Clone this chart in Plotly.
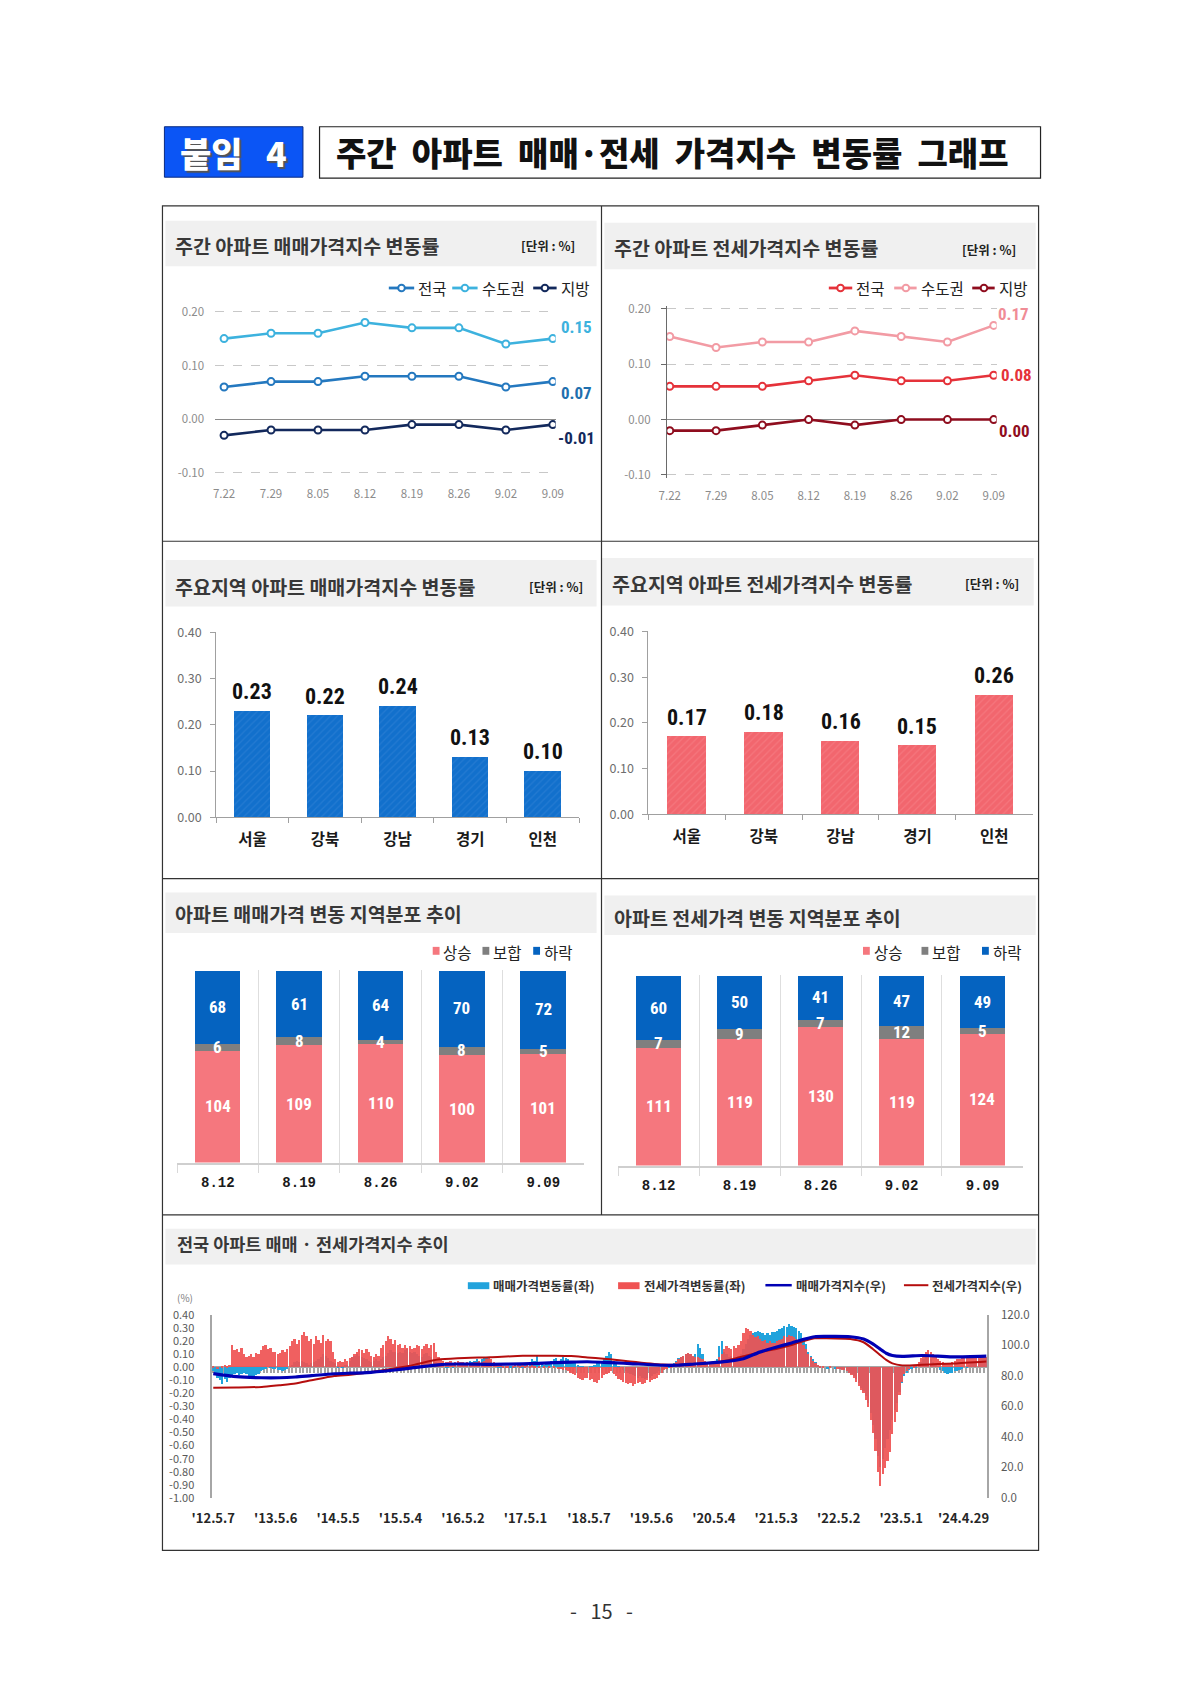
import pandas as pd
import plotly.graph_objects as go

W, H = 1190, 1682


def fx(p):
    return p / W


def fy(p):
    return 1 - p / H


KR = "Noto Sans CJK KR, Noto Sans, sans-serif"
NARROW = "Liberation Sans Narrow, Roboto Condensed, Roboto, Noto Sans CJK KR, sans-serif"
MONO = "Liberation Mono, DejaVu Sans Mono, monospace"
NB = "\u00a0"

# ---------------- data ----------------
weeks = ["7.22", "7.29", "8.05", "8.12", "8.19", "8.26", "9.02", "9.09"]
sale_nation = [0.06, 0.07, 0.07, 0.08, 0.08, 0.08, 0.06, 0.07]
sale_capital = [0.15, 0.16, 0.16, 0.18, 0.17, 0.17, 0.14, 0.15]
sale_local = [-0.03, -0.02, -0.02, -0.02, -0.01, -0.01, -0.02, -0.01]
jeonse_nation = [0.06, 0.06, 0.06, 0.07, 0.08, 0.07, 0.07, 0.08]
jeonse_capital = [0.15, 0.13, 0.14, 0.14, 0.16, 0.15, 0.14, 0.17]
jeonse_local = [-0.02, -0.02, -0.01, 0.00, -0.01, 0.00, 0.00, 0.00]
line_ticks = [-0.10, 0.00, 0.10, 0.20]

regions = ["서울", "강북", "강남", "경기", "인천"]
sale_region = [0.23, 0.22, 0.24, 0.13, 0.10]
jeonse_region = [0.17, 0.18, 0.16, 0.15, 0.26]
bar_ticks = [0.00, 0.10, 0.20, 0.30, 0.40]

dist_weeks = ["8.12", "8.19", "8.26", "9.02", "9.09"]
sale_up = [104, 109, 110, 100, 101]
sale_flat = [6, 8, 4, 8, 5]
sale_down = [68, 61, 64, 70, 72]
jeonse_up = [111, 119, 130, 119, 124]
jeonse_flat = [7, 9, 7, 12, 5]
jeonse_down = [60, 50, 41, 47, 49]

# bi-weekly change rates (%), from 2012-05-07 to 2024-09-09
sale_chg = [
    # 2012.05 - 2013.04
    -0.03, -0.05, -0.08, -0.10, -0.13, -0.09, -0.11, -0.08, -0.06, -0.05, -0.04, -0.06, -0.05,
    -0.04, -0.05, -0.07, -0.09, -0.08, -0.06, -0.05, -0.03, -0.02, -0.01, 0.00, 0.01, -0.01,
    # 2013.05 - 2014.04
    -0.01, -0.02, -0.02, -0.03, -0.02, -0.01, 0.00, 0.02, 0.04, 0.05, 0.04, 0.05, 0.04,
    0.03, 0.02, 0.03, 0.04, 0.05, 0.06, 0.08, 0.10, 0.09, 0.07, 0.05, 0.04, 0.03,
    # 2014.05 - 2015.04
    0.01, 0.00, 0.01, 0.02, 0.02, 0.05, 0.08, 0.09, 0.10, 0.09, 0.08, 0.07, 0.06,
    0.05, 0.04, 0.05, 0.06, 0.05, 0.06, 0.08, 0.09, 0.11, 0.13, 0.12, 0.12, 0.11,
    # 2015.05 - 2016.04
    0.12, 0.11, 0.13, 0.14, 0.12, 0.11, 0.12, 0.10, 0.09, 0.08, 0.10, 0.11, 0.09,
    0.08, 0.06, 0.04, 0.03, 0.02, 0.02, 0.01, 0.01, 0.00, 0.01, 0.02, 0.02, 0.03,
    # 2016.05 - 2017.04
    0.03, 0.03, 0.04, 0.05, 0.04, 0.05, 0.06, 0.05, 0.06, 0.07, 0.08, 0.06, 0.04,
    0.03, 0.02, 0.01, 0.01, 0.01, 0.01, 0.00, 0.01, 0.01, 0.01, 0.02, 0.02, 0.01,
    # 2017.05 - 2018.04
    0.02, 0.03, 0.04, 0.06, 0.05, 0.09, 0.04, 0.03, 0.02, 0.03, 0.04, 0.05, 0.06,
    0.07, 0.05, 0.06, 0.08, 0.07, 0.06, 0.05, 0.04, 0.03, 0.02, 0.01, 0.01, 0.00,
    # 2018.05 - 2019.04
    0.00, 0.01, 0.01, 0.02, 0.03, 0.04, 0.05, 0.07, 0.09, 0.12, 0.10, 0.05, 0.03,
    0.01, 0.00, -0.02, -0.03, -0.04, -0.05, -0.06, -0.07, -0.08, -0.07, -0.08, -0.09, -0.08,
    # 2019.05 - 2020.04
    -0.08, -0.07, -0.05, -0.04, -0.03, -0.02, -0.01, 0.00, 0.01, 0.02, 0.03, 0.05, 0.07,
    0.08, 0.09, 0.10, 0.11, 0.10, 0.08, 0.10, 0.18, 0.15, 0.10, 0.05, 0.03, 0.02,
    # 2020.05 - 2021.04
    0.02, 0.03, 0.06, 0.16, 0.20, 0.12, 0.10, 0.08, 0.09, 0.08, 0.07, 0.09, 0.10,
    0.14, 0.18, 0.22, 0.25, 0.26, 0.27, 0.28, 0.27, 0.26, 0.25, 0.26, 0.25, 0.27,
    # 2021.05 - 2022.04
    0.27, 0.28, 0.29, 0.30, 0.32, 0.31, 0.33, 0.32, 0.31, 0.30, 0.28, 0.26, 0.22,
    0.18, 0.12, 0.09, 0.06, 0.04, 0.02, 0.01, 0.00, 0.00, -0.01, 0.00, 0.00, -0.01,
    # 2022.05 - 2023.04
    0.00, -0.01, -0.01, -0.02, -0.03, -0.04, -0.05, -0.07, -0.09, -0.12, -0.16, -0.18, -0.22,
    -0.27, -0.35, -0.44, -0.55, -0.68, -0.76, -0.70, -0.62, -0.55, -0.48, -0.40, -0.33, -0.27,
    # 2023.05 - 2024.04
    -0.19, -0.12, -0.07, -0.04, -0.02, -0.01, 0.00, 0.01, 0.02, 0.04, 0.06, 0.08, 0.07,
    0.06, 0.04, 0.02, 0.00, -0.02, -0.03, -0.04, -0.05, -0.04, -0.04, -0.03, -0.03, -0.02,
    # 2024.05 - 2024.09
    -0.01, 0.00, 0.01, 0.02, 0.03, 0.04, 0.05, 0.06, 0.07, 0.08, 0.07,
]
jeonse_chg = [
    # 2012.05 - 2013.04
    0.01, 0.00, -0.01, 0.00, 0.01, 0.02, 0.01, 0.02, 0.17, 0.13, 0.14, 0.12, 0.15,
    0.10, 0.08, 0.09, 0.10, 0.08, 0.11, 0.10, 0.13, 0.16, 0.17, 0.14, 0.15, 0.12,
    # 2013.05 - 2014.04
    0.12, 0.10, 0.11, 0.13, 0.12, 0.14, 0.16, 0.20, 0.22, 0.18, 0.21, 0.25, 0.27,
    0.24, 0.20, 0.22, 0.18, 0.24, 0.21, 0.19, 0.25, 0.20, 0.22, 0.20, 0.12, 0.06,
    # 2014.05 - 2015.04
    0.04, 0.05, 0.04, 0.06, 0.05, 0.07, 0.08, 0.10, 0.12, 0.14, 0.13, 0.11, 0.14,
    0.12, 0.09, 0.08, 0.10, 0.09, 0.15, 0.17, 0.20, 0.24, 0.22, 0.18, 0.21, 0.17,
    # 2015.05 - 2016.04
    0.18, 0.15, 0.17, 0.15, 0.16, 0.14, 0.15, 0.17, 0.16, 0.14, 0.16, 0.18, 0.15,
    0.17, 0.19, 0.12, 0.08, 0.06, 0.05, 0.04, 0.04, 0.05, 0.03, 0.04, 0.05, 0.04,
    # 2016.05 - 2017.04
    0.04, 0.03, 0.04, 0.03, 0.03, 0.04, 0.04, 0.05, 0.04, 0.05, 0.06, 0.07, 0.06,
    0.04, 0.03, 0.02, 0.02, 0.01, 0.01, 0.01, 0.00, 0.01, 0.02, 0.02, 0.01, 0.02,
    # 2017.05 - 2018.04
    0.01, 0.02, 0.01, 0.02, 0.01, 0.00, 0.01, 0.00, 0.01, 0.00, 0.01, 0.00, 0.01,
    0.00, -0.01, -0.01, -0.02, -0.02, -0.03, -0.04, -0.05, -0.06, -0.08, -0.09, -0.10, -0.08,
    # 2018.05 - 2019.04
    -0.08, -0.10, -0.09, -0.11, -0.12, -0.10, -0.08, -0.06, -0.05, -0.04, -0.03, -0.05, -0.07,
    -0.09, -0.10, -0.11, -0.12, -0.13, -0.12, -0.14, -0.13, -0.12, -0.11, -0.13, -0.12, -0.10,
    # 2019.05 - 2020.04
    -0.11, -0.10, -0.09, -0.08, -0.06, -0.04, -0.02, -0.01, 0.00, 0.01, 0.02, 0.04, 0.06,
    0.08, 0.09, 0.10, 0.11, 0.10, 0.09, 0.08, 0.08, 0.07, 0.06, 0.05, 0.04, 0.03,
    # 2020.05 - 2021.04
    0.03, 0.04, 0.05, 0.08, 0.10, 0.14, 0.16, 0.15, 0.14, 0.16, 0.15, 0.17, 0.20,
    0.26, 0.30, 0.29, 0.28, 0.25, 0.23, 0.24, 0.22, 0.20, 0.21, 0.19, 0.20, 0.19,
    # 2021.05 - 2022.04
    0.19, 0.20, 0.21, 0.22, 0.24, 0.23, 0.25, 0.24, 0.23, 0.22, 0.20, 0.19, 0.17,
    0.14, 0.10, 0.08, 0.05, 0.03, 0.02, 0.01, 0.01, 0.00, 0.00, 0.01, 0.00, 0.00,
    # 2022.05 - 2023.04
    -0.01, -0.01, -0.02, -0.02, -0.03, -0.04, -0.06, -0.08, -0.11, -0.14, -0.17, -0.20, -0.25,
    -0.30, -0.40, -0.50, -0.64, -0.80, -0.91, -0.82, -0.77, -0.72, -0.65, -0.51, -0.42, -0.34,
    # 2023.05 - 2024.04
    -0.21, -0.11, -0.05, -0.03, -0.01, 0.00, 0.01, 0.02, 0.04, 0.07, 0.10, 0.12, 0.13,
    0.12, 0.10, 0.08, 0.06, 0.05, 0.04, 0.03, 0.03, 0.03, 0.04, 0.05, 0.06, 0.06,
    # 2024.05 - 2024.09
    0.07, 0.07, 0.08, 0.08, 0.09, 0.08, 0.09, 0.08, 0.08, 0.08, 0.08,
]
chg_dates = pd.date_range("2012-05-07", periods=len(sale_chg), freq="14D")

idx_dates = ["2012-05-07", "2012-09-20", "2013-02-14", "2013-05-27", "2013-08-29", "2013-12-01",
             "2014-04-12", "2014-07-16", "2014-10-19", "2015-03-17", "2015-06-20", "2015-08-18",
             "2015-12-09", "2016-04-01", "2016-10-08", "2017-04-16", "2017-10-19", "2018-01-23",
             "2018-04-28", "2018-07-31", "2018-10-16", "2019-01-01", "2019-07-09", "2019-10-08",
             "2020-01-12", "2020-04-16", "2020-07-19", "2020-10-23", "2021-01-26", "2021-05-01",
             "2021-07-31", "2021-10-16", "2021-12-13", "2022-02-06", "2022-07-09", "2022-09-24",
             "2022-11-17", "2022-12-28", "2023-02-03", "2023-03-11", "2023-05-08", "2023-08-29",
             "2023-12-01", "2024-03-07", "2024-09-09"]
sale_idx = [81.5, 79.5, 78.8, 78.8, 79.3, 80.2, 81.4, 81.8, 82.1, 83.7, 85.0, 85.8, 87.3, 87.8,
            87.6, 87.9, 88.7, 89.1, 89.3, 88.9, 88.5, 88.1, 87.0, 87.0, 87.8, 88.5, 89.5, 91.3,
            95.6, 98.8, 101.6, 104.2, 105.7, 105.9, 105.7, 104.2, 101.0, 97.7, 94.9, 93.4, 92.8,
            93.4, 93.0, 92.5, 93.0]
jeonse_idx = [72.2, 72.4, 72.8, 73.9, 75.0, 77.1, 79.9, 80.8, 82.1, 84.7, 86.5, 88.0, 90.7, 91.6,
              92.3, 93.2, 93.2, 93.0, 92.1, 91.3, 90.5, 89.5, 87.5, 87.3, 87.8, 88.6, 90.1, 92.9,
              95.6, 97.7, 100.3, 103.1, 104.7, 104.7, 104.2, 102.1, 97.7, 93.8, 90.5, 88.2, 86.9,
              87.3, 87.8, 88.2, 89.5]

trend_tickvals = ["2012-05-07", "2013-05-06", "2014-05-05", "2015-05-04", "2016-05-02", "2017-05-01",
                  "2018-05-07", "2019-05-06", "2020-05-04", "2021-05-03", "2022-05-02", "2023-05-01",
                  "2024-04-29"]
trend_ticktext = ["'12.5.7", "'13.5.6", "'14.5.5", "'15.5.4", "'16.5.2", "'17.5.1", "'18.5.7",
                  "'19.5.6", "'20.5.4", "'21.5.3", "'22.5.2", "'23.5.1", "'24.4.29"]
left_ticks = [-1.0, -0.9, -0.8, -0.7, -0.6, -0.5, -0.4, -0.3, -0.2, -0.1, 0.0, 0.1, 0.2, 0.3, 0.4]
right_ticks = [0, 20, 40, 60, 80, 100, 120]

# ---------------- colours ----------------
S_NAT, S_CAP, S_LOC = "#2478bf", "#3db2de", "#13295c"
J_NAT, J_CAP, J_LOC = "#e5323a", "#f29ba4", "#8f0d1e"
BAR_BLUE, BAR_RED = "#1270cc", "#f2666e"
UP, FLAT, DOWN = "#f5777e", "#7f7f7f", "#0563c0"
CYAN, RED, IDX_BLUE, IDX_RED = "#22a3dc", "#ef5353", "#0000b4", "#b50d0d"

fig = go.Figure()


def line_trace(x, y, color, xa, ya):
    return go.Scatter(x=x, y=y, mode="lines+markers", xaxis=xa, yaxis=ya,
                      line=dict(color=color, width=2.6),
                      marker=dict(symbol="circle", size=7, color="white",
                                  line=dict(color=color, width=2)),
                      showlegend=False, hoverinfo="skip")


for vals, col in [(sale_capital, S_CAP), (sale_nation, S_NAT), (sale_local, S_LOC)]:
    fig.add_trace(line_trace(weeks, vals, col, "x", "y"))
for vals, col in [(jeonse_capital, J_CAP), (jeonse_nation, J_NAT), (jeonse_local, J_LOC)]:
    fig.add_trace(line_trace(weeks, vals, col, "x2", "y2"))

fig.add_trace(go.Bar(x=regions, y=sale_region, width=0.5, xaxis="x3", yaxis="y3",
                     marker=dict(color=BAR_BLUE, line=dict(width=0),
                                 pattern=dict(shape="/", bgcolor=BAR_BLUE, fgcolor="#3d8ad8",
                                              fgopacity=0.4, size=5, solidity=0.25)),
                     showlegend=False, hoverinfo="skip"))
fig.add_trace(go.Bar(x=regions, y=jeonse_region, width=0.5, xaxis="x4", yaxis="y4",
                     marker=dict(color=BAR_RED, line=dict(width=0),
                                 pattern=dict(shape="/", bgcolor=BAR_RED, fgcolor="#f88a90",
                                              fgopacity=0.45, size=5, solidity=0.25)),
                     showlegend=False, hoverinfo="skip"))


def stack(xa, ya, up, flat, down, width):
    base2 = up
    base3 = [u + f for u, f in zip(up, flat)]
    for vals, base, col in [(up, None, UP), (flat, base2, FLAT), (down, base3, DOWN)]:
        fig.add_trace(go.Bar(x=dist_weeks, y=vals, base=base, width=width, xaxis=xa, yaxis=ya,
                             marker=dict(color=col, line=dict(width=0)),
                             showlegend=False, hoverinfo="skip"))


stack("x5", "y5", sale_up, sale_flat, sale_down, 0.56)
stack("x6", "y6", jeonse_up, jeonse_flat, jeonse_down, 0.55)

BARW = 10 * 86400000
fig.add_trace(go.Bar(x=chg_dates, y=sale_chg, width=BARW, xaxis="x7", yaxis="y7",
                     marker=dict(color=CYAN, line=dict(width=0)), showlegend=False,
                     hoverinfo="skip"))
fig.add_trace(go.Bar(x=chg_dates, y=jeonse_chg, width=BARW, xaxis="x7", yaxis="y7",
                     marker=dict(color=RED, line=dict(width=0)), opacity=0.92,
                     showlegend=False, hoverinfo="skip"))
fig.add_trace(go.Scatter(x=[chg_dates[0]], y=[None], xaxis="x8", yaxis="y7", mode="markers",
                         showlegend=False, hoverinfo="skip"))
fig.add_trace(go.Scatter(x=idx_dates, y=jeonse_idx, xaxis="x7", yaxis="y8", mode="lines",
                         line=dict(color=IDX_RED, width=2, shape="spline", smoothing=0.6),
                         showlegend=False, hoverinfo="skip"))
fig.add_trace(go.Scatter(x=idx_dates, y=sale_idx, xaxis="x7", yaxis="y8", mode="lines",
                         line=dict(color=IDX_BLUE, width=3.2, shape="spline", smoothing=0.6),
                         showlegend=False, hoverinfo="skip"))

# ---------------- axes ----------------
gray_font = dict(family=KR, size=11.5, color="#8c8c8c")


def fmt(vals, d):
    return [f"{v:.{d}f}" for v in vals]


LR = [-0.105, 0.205]
layout_axes = dict(
    xaxis=dict(domain=[fx(199), fx(548)], anchor="y", type="category", range=[-0.19, 7.06],
               showgrid=False, zeroline=False, showline=False, ticks="", tickfont=gray_font,
               ticklabelstandoff=10),
    yaxis=dict(domain=[fy(470.7), fy(302.3)], anchor="x", range=LR,
               tickvals=line_ticks, ticktext=fmt(line_ticks, 2), showgrid=True,
               gridcolor="#c8c8c8", griddash="dash", gridwidth=1, zeroline=True,
               zerolinecolor="#8a8a8a", zerolinewidth=1, showline=False, ticks="",
               tickfont=gray_font, ticklabelstandoff=10),
    xaxis2=dict(domain=[fx(662), fx(1000)], anchor="y2", type="category", range=[-0.063, 7.063],
                showgrid=False, zeroline=False, showline=False, ticks="", tickfont=gray_font,
                ticklabelstandoff=10),
    yaxis2=dict(domain=[fy(472.8), fy(299.2)], anchor="x2", range=LR,
                tickvals=line_ticks, ticktext=fmt(line_ticks, 2), showgrid=True,
                gridcolor="#c8c8c8", griddash="dash", gridwidth=1, zeroline=True,
                zerolinecolor="#8a8a8a", zerolinewidth=1, showline=True, linecolor="#6a6a6a",
                ticks="outside", ticklen=5, tickcolor="#6a6a6a", tickfont=gray_font,
                ticklabelstandoff=8),
)

for i, (dx, dy) in enumerate([((200, 572), (816, 629)), ((643, 1037), (813, 628))], start=3):
    layout_axes[f"xaxis{i}"] = dict(domain=[fx(dx[0]), fx(dx[1])], anchor=f"y{i}", type="category",
                                    range=[-0.5, 4.5], showgrid=False, zeroline=False,
                                    showline=True, linecolor="#a0a0a0", ticks="outside",
                                    tickson="boundaries", ticklen=5, tickcolor="#a0a0a0",
                                    tickfont=dict(family=KR, size=15.5, color="#1a1a1a",
                                                  weight="bold"),
                                    ticklabelstandoff=8)
    layout_axes[f"yaxis{i}"] = dict(domain=[fy(dy[0]), fy(dy[1])], anchor=f"x{i}",
                                    range=[0, 0.4005], tickvals=bar_ticks,
                                    ticktext=fmt(bar_ticks, 2), showgrid=False, zeroline=False,
                                    showline=True, linecolor="#a0a0a0", ticks="outside",
                                    ticklen=5, tickcolor="#a0a0a0",
                                    tickfont=dict(family=KR, size=12.5, color="#6e6e6e"),
                                    ticklabelstandoff=6)

for i, (dx, dy) in enumerate([((160, 577), (1165, 970)), ((612, 1027), (1168, 975))], start=5):
    layout_axes[f"xaxis{i}"] = dict(domain=[fx(dx[0]), fx(dx[1])], anchor=f"y{i}", type="category",
                                    range=[-0.5, 4.5], showgrid=True, gridcolor="#dedede",
                                    zeroline=False, showline=True, linecolor="#cfcfcf",
                                    linewidth=2, ticks="outside", tickson="boundaries",
                                    ticklen=8, tickcolor="#d9d9d9",
                                    tickfont=dict(family=MONO, size=14, color="#1a1a1a",
                                                  weight="bold"),
                                    ticklabelstandoff=6)
    layout_axes[f"yaxis{i}"] = dict(domain=[fy(dy[0]), fy(dy[1])], anchor=f"x{i}",
                                    range=[0, 179], showgrid=False, zeroline=False,
                                    showline=False, ticks="", showticklabels=False)

Y7_RANGE = [-1.0005, 0.4005]
Y8_RANGE = [-0.043, 120.043]
X7_RANGE = ["2012-05-01", "2024-09-12"]
d7 = [fy(1504), fy(1319)]
zero_pos = d7[0] + (0 - Y7_RANGE[0]) / (Y7_RANGE[1] - Y7_RANGE[0]) * (d7[1] - d7[0])
layout_axes.update(
    xaxis7=dict(domain=[fx(196), fx(990)], anchor="y7", type="date", range=X7_RANGE,
                tickvals=trend_tickvals, ticktext=trend_ticktext, ticks="", showgrid=False,
                showline=False, zeroline=False,
                tickfont=dict(family=KR, size=13, color="#262626", weight="bold"),
                ticklabelstandoff=11),
    xaxis8=dict(overlaying="x7", anchor="free", position=zero_pos, type="date", range=X7_RANGE,
                ticks="outside", ticklen=5, tickwidth=1.5, tickcolor="#a3a3a3",
                dtick=21 * 86400000, tick0="2012-05-07", showticklabels=False, showgrid=False,
                showline=False, zeroline=False, layer="below traces"),
    yaxis7=dict(domain=d7, anchor="x7", range=Y7_RANGE, tickvals=left_ticks,
                ticktext=fmt(left_ticks, 2), showgrid=False, zeroline=True,
                zerolinecolor="#a6a6a6", zerolinewidth=1.5, showline=True, linecolor="#a6a6a6",
                linewidth=1.5, ticks="", tickfont=dict(family=KR, size=11, color="#595959"),
                ticklabelstandoff=14),
    yaxis8=dict(overlaying="y7", side="right", anchor="x7", range=Y8_RANGE, tickvals=right_ticks,
                ticktext=fmt(right_ticks, 1), showgrid=False, zeroline=False, showline=True,
                linecolor="#a6a6a6", linewidth=1.5, ticks="",
                tickfont=dict(family=KR, size=11.5, color="#595959"), ticklabelstandoff=10),
)

# ---------------- annotations & shapes ----------------
ann, shp = [], []


def text(x, y, s, size, color="#222", weight="normal", family=KR, xanchor="left",
         yanchor="middle", shadow=None):
    f = dict(family=family, size=size, color=color, weight=weight)
    if shadow:
        f["shadow"] = shadow
    ann.append(dict(x=fx(x), y=fy(y), xref="paper", yref="paper", text=s, showarrow=False,
                    xanchor=xanchor, yanchor=yanchor, font=f))


def rect(x0, y0, x1, y1, fill, line_color=None, lw=0, layer="below"):
    shp.append(dict(type="rect", xref="paper", yref="paper", x0=fx(x0), x1=fx(x1), y0=fy(y1),
                    y1=fy(y0), fillcolor=fill, line=dict(color=line_color or fill, width=lw),
                    layer=layer))


def seg(x0, y0, x1, y1, color, width):
    shp.append(dict(type="line", xref="paper", yref="paper", x0=fx(x0), x1=fx(x1), y0=fy(y0),
                    y1=fy(y1), line=dict(color=color, width=width), layer="above"))


def circ(cx, cy, color, r=3.4):
    shp.append(dict(type="circle", xref="paper", yref="paper", x0=fx(cx - r), x1=fx(cx + r),
                    y0=fy(cy + r), y1=fy(cy - r), fillcolor="white",
                    line=dict(color=color, width=2), layer="above"))


# header
rect(147, 118, 289, 169, "#0b55f5", "#0a2a80", 1)
text(218, 144, "붙임" + NB + NB + " 4", 34, "white", 900, xanchor="center",
     shadow="2px 2px 1px #555555")
rect(306, 118, 1045, 170, "white", "#222222", 1.2)
gap = NB + " "
text(668, 144, gap.join(["주간", "아파트", "매매·전세", "가격지수", "변동률", "그래프"]), 33,
     "#111111", 900, xanchor="center")

# frame
rect(145, 198, 1043, 1557, "rgba(0,0,0,0)", "#333333", 1.2, layer="above")
seg(595, 198, 595, 1218, "#333333", 1.2)
for yy in (537, 878, 1218):
    seg(145, yy, 1043, yy, "#333333", 1.2)

# title bands
BAND = "#f0f0f0"
TCOL = "#383838"
TS = 19.5
rect(148, 213, 590, 259, BAND)
text(156, 238, "주간 아파트 매매가격지수 변동률", TS, TCOL, "bold")
text(570, 238, "[단위 : %]", 12.5, "#222", "bold", xanchor="right")
rect(598, 215, 1040, 262, BAND)
text(606, 240, "주간 아파트 전세가격지수 변동률", TS, TCOL, "bold")
text(1022, 242, "[단위 : %]", 12.5, "#222", "bold", xanchor="right")
rect(148, 556, 590, 603, BAND)
text(156, 583, "주요지역 아파트 매매가격지수 변동률", TS, TCOL, "bold")
text(578, 583, "[단위 : %]", 12.5, "#222", "bold", xanchor="right")
rect(595, 554, 1038, 602, BAND)
text(604, 580, "주요지역 아파트 전세가격지수 변동률", TS, TCOL, "bold")
text(1025, 580, "[단위 : %]", 12.5, "#222", "bold", xanchor="right")
rect(148, 892, 590, 933, BAND)
text(156, 913, "아파트 매매가격 변동 지역분포 추이", TS, TCOL, "bold")
rect(598, 895, 1040, 935, BAND)
text(606, 917, "아파트 전세가격 변동 지역분포 추이", TS, TCOL, "bold")
rect(148, 1232, 1040, 1268, BAND)
text(158, 1247, "전국 아파트 매매 · 전세가격지수 추이", 17.5, TCOL, "bold")

# legends: weekly line panels
for (l0, l1, cx, tx, label, col) in [(377, 403, 390, 405, "전국", S_NAT),
                                     (442, 468, 455, 470, "수도권", S_CAP),
                                     (525, 549, 537, 551, "지방", S_LOC)]:
    seg(l0, 281, l1, 281, col, 2.8)
    circ(cx, 281, col)
    text(tx, 281, label, 15.5, "#222")
for (l0, l1, cx, tx, label, col) in [(828, 852, 840, 854, "전국", J_NAT),
                                     (895, 918, 907, 920, "수도권", J_CAP),
                                     (975, 998, 987, 1000, "지방", J_LOC)]:
    seg(l0, 281, l1, 281, col, 2.8)
    circ(cx, 281, col)
    text(tx, 281, label, 15.5, "#222")

# legends: distribution panels
for (sx, label, col) in [(422, "상승", UP), (473, "보합", FLAT), (525, "하락", DOWN)]:
    rect(sx, 947, sx + 7, 955, col, layer="above")
    text(sx + 9, 952, label, 15.5, "#222")
for (sx, label, col) in [(863, "상승", UP), (923, "보합", FLAT), (985, "하락", DOWN)]:
    rect(sx, 947, sx + 7, 955, col, layer="above")
    text(sx + 9, 952, label, 15.5, "#222")

# legend: trend panel
rect(458, 1286, 480, 1293, CYAN, layer="above")
text(482, 1289, "매매가격변동률(좌)", 12.5, "#333", "bold")
rect(612, 1286, 634, 1293, RED, layer="above")
text(636, 1289, "전세가격변동률(좌)", 12.5, "#333", "bold")
seg(763, 1289, 790, 1289, IDX_BLUE, 2.5)
text(792, 1289, "매매가격지수(우)", 12.5, "#333", "bold")
seg(905, 1289, 930, 1289, IDX_RED, 2)
text(932, 1289, "전세가격지수(우)", 12.5, "#333", "bold")
text(168, 1301, "(%)", 10, "#808080", xanchor="center")

# page number
text(595, 1618, "-" + NB + NB + " 15" + NB + NB + " -", 20, "#333", xanchor="center")

# end labels on weekly line panels (category index positions)
last = len(weeks) - 1
for vals, col, xs, ys in [(sale_capital, S_CAP, 6, 12), (sale_nation, "#1f6fae", 6, -11),
                          (sale_local, S_LOC, 3, -13)]:
    ann.append(dict(x=last, y=vals[-1], xref="x", yref="y", text=f"{vals[-1]:.2f}",
                    showarrow=False, xanchor="left", yanchor="middle", xshift=xs, yshift=ys,
                    font=dict(family=NARROW, size=17, color=col, weight="bold")))
for vals, col, xs, ys in [(jeonse_capital, "#f08c96", 2, 11), (jeonse_nation, J_NAT, 5, 0),
                          (jeonse_local, J_LOC, 3, -11)]:
    ann.append(dict(x=last, y=vals[-1], xref="x2", yref="y2", text=f"{vals[-1]:.2f}",
                    showarrow=False, xanchor="left", yanchor="middle", xshift=xs, yshift=ys,
                    font=dict(family=NARROW, size=17, color=col, weight="bold")))

# bar value labels
for xa, ya, vals in [("x3", "y3", sale_region), ("x4", "y4", jeonse_region)]:
    for k, v in enumerate(vals):
        ann.append(dict(x=k, y=v, xref=xa, yref=ya, text=f"{v:.2f}", showarrow=False,
                        xanchor="center", yanchor="bottom", yshift=5,
                        font=dict(family=NARROW, size=22, color="#111111", weight="bold")))

# stacked segment labels
for xa, ya, up, flat, down in [("x5", "y5", sale_up, sale_flat, sale_down),
                               ("x6", "y6", jeonse_up, jeonse_flat, jeonse_down)]:
    for k in range(len(dist_weeks)):
        for val, mid in [(up[k], up[k] / 2), (flat[k], up[k] + flat[k] / 2),
                         (down[k], up[k] + flat[k] + down[k] / 2)]:
            ann.append(dict(x=k, y=mid, xref=xa, yref=ya, text=str(val), showarrow=False,
                            xanchor="center", yanchor="middle",
                            font=dict(family=NARROW, size=17, color="white", weight="bold")))

fig.update_layout(
    width=W, height=H, autosize=False,
    margin=dict(l=0, r=0, t=0, b=0, pad=0),
    paper_bgcolor="white", plot_bgcolor="rgba(0,0,0,0)",
    barmode="overlay", bargap=0, showlegend=False,
    font=dict(family=KR),
    annotations=ann, shapes=shp,
    **layout_axes,
)

fig.write_html("out.html", config={"displayModeBar": False},
               post_script="document.body.style.margin='0';"
                           "document.body.style.overflow='hidden';")
